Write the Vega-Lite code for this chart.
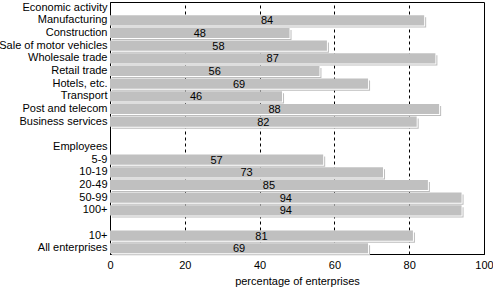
{
  "$schema": "https://vega.github.io/schema/vega-lite/v6.json",
  "width": 374,
  "height": 252,
  "autosize": {"type": "none"},
  "padding": {"left": 110, "top": 2, "right": 9, "bottom": 34},
  "background": "white",
  "config": {
    "font": "Liberation Sans",
    "view": {"stroke": "black", "strokeWidth": 1},
    "axis": {"labelFont": "Liberation Sans", "titleFont": "Liberation Sans", "labelColor": "black", "titleColor": "black"}
  },
  "data": {
    "values": [
      {"cat": "Economic activity", "value": null},
      {"cat": "Manufacturing", "value": 84},
      {"cat": "Construction", "value": 48},
      {"cat": "Sale of motor vehicles", "value": 58},
      {"cat": "Wholesale trade", "value": 87},
      {"cat": "Retail trade", "value": 56},
      {"cat": "Hotels, etc.", "value": 69},
      {"cat": "Transport", "value": 46},
      {"cat": "Post and telecom", "value": 88},
      {"cat": "Business services", "value": 82},
      {"cat": "blank1", "value": null},
      {"cat": "Employees", "value": null},
      {"cat": "5-9", "value": 57},
      {"cat": "10-19", "value": 73},
      {"cat": "20-49", "value": 85},
      {"cat": "50-99", "value": 94},
      {"cat": "100+", "value": 94},
      {"cat": "blank2", "value": null},
      {"cat": "10+", "value": 81},
      {"cat": "All enterprises", "value": 69}
    ]
  },
  "encoding": {
    "y": {
      "field": "cat",
      "type": "nominal",
      "sort": null,
      "scale": {
        "domain": ["Economic activity", "Manufacturing", "Construction", "Sale of motor vehicles", "Wholesale trade", "Retail trade", "Hotels, etc.", "Transport", "Post and telecom", "Business services", "blank1", "Employees", "5-9", "10-19", "20-49", "50-99", "100+", "blank2", "10+", "All enterprises"],
        "paddingInner": 0.2,
        "paddingOuter": 0.05
      },
      "axis": {
        "title": null,
        "ticks": false,
        "labelFontSize": 11,
        "labelPadding": 3,
        "domainColor": "black",
        "labelExpr": "indexof(datum.value, 'blank') == 0 ? '' : datum.value"
      }
    }
  },
  "layer": [
    {
      "mark": {"type": "bar", "color": "#bdbdbd", "xOffset": 2, "yOffset": 2},
      "transform": [{"filter": "datum.value != null"}],
      "encoding": {
        "x": {
          "field": "value",
          "type": "quantitative",
          "scale": {"domain": [0, 100], "nice": false},
          "axis": {
            "values": [0, 20, 40, 60, 80, 100],
            "title": "percentage of enterprises",
            "titleFontSize": 11,
            "titleFontWeight": "normal",
            "titlePadding": 5,
            "labelFontSize": 11,
            "labelPadding": 5,
            "ticks": false,
            "domainColor": "black",
            "grid": true,
            "gridColor": "black",
            "gridDash": [3, 3],
            "gridOpacity": 1,
            "labelFlush": false
          }
        }
      }
    },
    {
      "mark": {"type": "bar", "color": "white", "xOffset": 1, "yOffset": 1},
      "transform": [{"filter": "datum.value != null"}],
      "encoding": {"x": {"field": "value", "type": "quantitative"}}
    },
    {
      "mark": {"type": "bar", "color": "#c0c0c0"},
      "transform": [{"filter": "datum.value != null"}],
      "encoding": {"x": {"field": "value", "type": "quantitative"}}
    },
    {
      "mark": {"type": "text", "fontSize": 11, "color": "black", "align": "center", "baseline": "middle", "dy": 1},
      "transform": [{"filter": "datum.value != null"}, {"calculate": "datum.value / 2", "as": "mid"}],
      "encoding": {
        "x": {"field": "mid", "type": "quantitative"},
        "text": {"field": "value", "type": "quantitative"}
      }
    }
  ]
}
